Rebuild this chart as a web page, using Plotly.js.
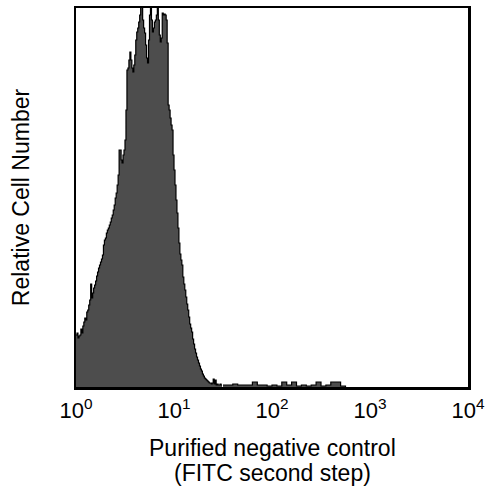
<!DOCTYPE html>
<html>
<head>
<meta charset="utf-8">
<script src="https://cdn.plot.ly/plotly-3.0.1.min.js"></script>
<style>html,body{margin:0;padding:0;background:#fff;}#chart{width:491px;height:493px;}</style>
</head>
<body>
<div id="chart"></div>
<script>
// Fluorescence intensity in decades (log10), main histogram bins: start 0, step 0.01
const mainStart = 0;
const mainStep = 0.01;
const mainCounts = [
  52, 54, 49, 51, 52, 58, 54, 61, 65, 69,
  67, 75, 77, 82, 87, 103, 89, 94, 99, 102,
  106, 111, 115, 119, 122, 125, 128, 132, 142, 147,
  149, 154, 157, 159, 162, 165, 169, 172, 177, 182,
  189, 194, 202, 212, 237, 237, 227, 224, 232, 237,
  247, 277, 317, 319, 327, 335, 327, 319, 315, 322,
  332, 347, 355, 359, 365, 372, 395, 400, 367, 359,
  354, 342, 329, 324, 347, 372, 398, 367, 355, 359,
  365, 367, 372, 395, 367, 352, 345, 349, 374, 372,
  373, 372, 367, 344, 282, 277, 269, 262, 257, 232,
  217, 202, 187, 174, 159, 144, 133, 127, 122, 110,
  103, 97, 90, 83, 77, 70, 63, 59, 55, 48,
  43, 38, 34, 30, 27, 24, 21, 18, 16, 13,
  11, 9, 8, 7, 6, 5, 4, 4, 3, 4,
  8, 3, 7, 2, 3, 2, 2, 3, 2, 2
];
// Sparse tail bins: start 1.5, step 0.05
const tailStart = 1.5;
const tailStep = 0.05;
const tailCounts = [
  2, 2, 3, 2, 2, 2, 5, 2, 2, 1,
  2, 1, 5, 2, 5, 1, 2, 1, 2, 5,
  1, 2, 5, 5, 1, 0
];
const tickVals = [0, 1, 2, 3, 4];
const tickText = ['10<sup>0</sup>', '10<sup>1</sup>', '10<sup>2</sup>', '10<sup>3</sup>', '10<sup>4</sup>'];
const xTitleLines = ['Purified negative control', '(FITC second step)'];
const yTitle = 'Relative Cell Number';

const style = {
  type: 'scatter', mode: 'lines',
  line: {shape: 'hv', color: '#000', width: 1.2},
  fill: 'tozeroy', fillcolor: '#4d4d4d',
  hoverinfo: 'skip', showlegend: false
};
const data = [
  Object.assign({}, style, {x0: mainStart, dx: mainStep, y: mainCounts}),
  Object.assign({}, style, {x0: tailStart, dx: tailStep, y: tailCounts})
];
const fam = 'Liberation Sans, Arial, sans-serif';
const layout = {
  width: 491, height: 493,
  margin: {l: 76, r: 23, t: 8, b: 106},
  paper_bgcolor: '#fff', plot_bgcolor: '#fff',
  font: {family: fam, color: '#000', size: 22},
  xaxis: {
    range: [0, 4], showgrid: false, zeroline: false,
    showline: true, mirror: true, linewidth: 2.5, linecolor: '#000',
    ticks: '', tickvals: tickVals, ticktext: tickText, ticklabelstandoff: 2,
    tickfont: {family: fam, size: 22, color: '#000'}
  },
  yaxis: {
    range: [0, 379], showgrid: false, zeroline: false,
    showline: true, mirror: true, linewidth: 2.5, linecolor: '#000',
    ticks: '', showticklabels: false,
    title: {text: yTitle, font: {family: fam, size: 23, color: '#000'}, standoff: 38}
  },
  annotations: [
    {text: xTitleLines[0], xref: 'paper', yref: 'paper', x: 0.5, y: 0, xanchor: 'center', yanchor: 'middle', yshift: -61, showarrow: false, font: {family: fam, size: 23, color: '#000'}},
    {text: xTitleLines[1], xref: 'paper', yref: 'paper', x: 0.5, y: 0, xanchor: 'center', yanchor: 'middle', yshift: -86, showarrow: false, font: {family: fam, size: 23, color: '#000'}}
  ]
};
Plotly.newPlot('chart', data, layout, {staticPlot: true, displayModeBar: false});
</script>
</body>
</html>
